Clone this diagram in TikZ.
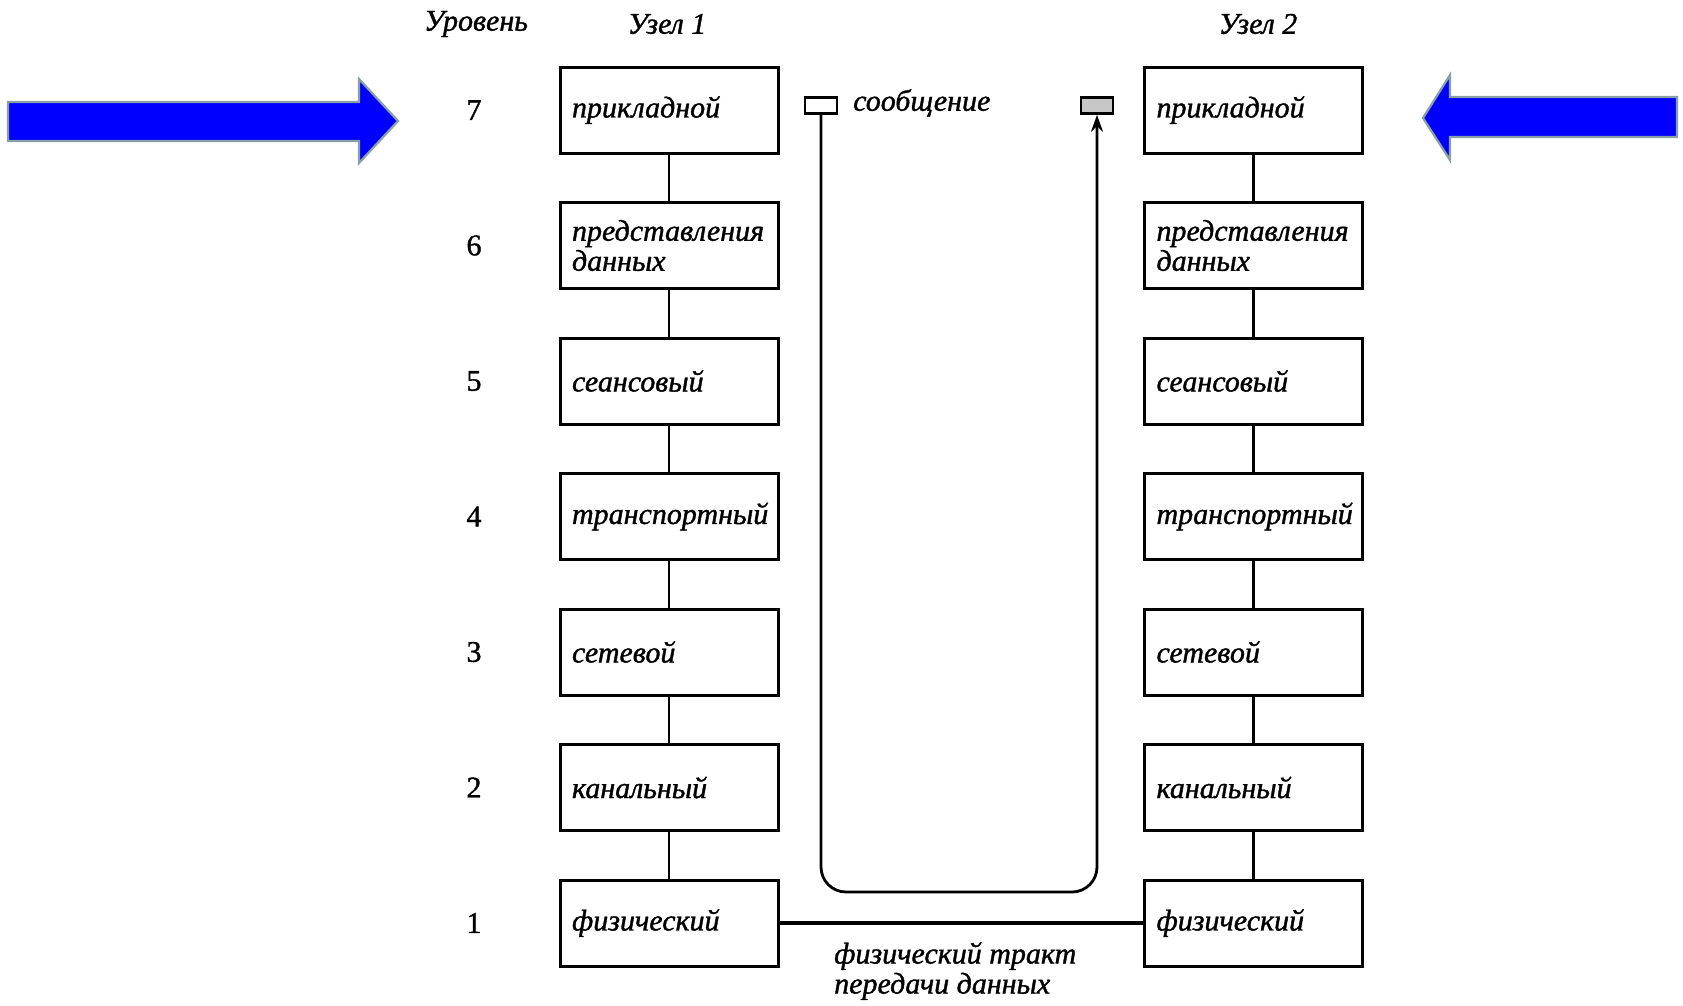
\documentclass[tikz,border=0pt]{standalone}
\usepackage{fontspec}
\setmainfont{Liberation Serif}
\newfontfamily\heavyfam{Liberation Serif}[FakeBold=1.2]
\usetikzlibrary{arrows.meta}
\definecolor{arrowblue}{RGB}{0,0,255}
\definecolor{arrowedge}{RGB}{135,160,165}
\tikzset{
  layer/.style={draw, line width=3pt, minimum height=86pt, text width=194pt,
    inner xsep=12pt, inner ysep=0pt, align=left,
    font=\heavyfam\fontsize{30}{30}\selectfont\itshape},
  num/.style={font=\heavyfam\fontsize{30}{30}\selectfont},
  txt/.style={font=\heavyfam\fontsize{30}{30}\selectfont\itshape, inner sep=0pt},
  link/.style={line width=2.2pt},
  msg/.style={draw, line width=2.6pt, minimum width=32pt, minimum height=16pt, inner sep=0pt},
  upath/.style={line width=2.8pt, rounded corners=25pt, -{Stealth[length=17pt,width=12pt]}},
  phys/.style={line width=3.6pt},
  bluearrow/.style={fill=arrowblue, draw=arrowedge, line width=2.2pt, line join=miter}
}
\begin{document}
\begin{tikzpicture}[x=1pt,y=-1pt]
\useasboundingbox[fill=white] (0,0) rectangle (1683,1005);
% blue arrows
\draw[bluearrow] (8,102) -- (359,102) -- (359,79) -- (398,121) -- (359,163) -- (359,141) -- (8,141) -- cycle;
\draw[bluearrow] (1677,97) -- (1450,97) -- (1450,75) -- (1423,118) -- (1450,160) -- (1450,137) -- (1677,137) -- cycle;
% headers
\node[txt] (h0) at (476,24) {Уровень};
\node[txt] (h1) at (667,24) {Узел 1};
\node[txt] (h2) at (1258,24) {Узел 2};
% left stack
\node[layer] (L7) at (669,110) {прикладной};
\node[layer] (L6) at (669,245.5) {представления\\данных};
\node[layer] (L5) at (669,381) {сеансовый};
\node[layer] (L4) at (669,516.5) {транспортный};
\node[layer] (L3) at (669,652) {сетевой};
\node[layer] (L2) at (669,787.5) {канальный};
\node[layer] (L1) at (669,923) {физический};
% right stack
\node[layer] (R7) at (1253.5,110) {прикладной};
\node[layer] (R6) at (1253.5,245.5) {представления\\данных};
\node[layer] (R5) at (1253.5,381) {сеансовый};
\node[layer] (R4) at (1253.5,516.5) {транспортный};
\node[layer] (R3) at (1253.5,652) {сетевой};
\node[layer] (R2) at (1253.5,787.5) {канальный};
\node[layer] (R1) at (1253.5,923) {физический};
% level numbers
\node[num] (n7) at (474,110) {7};
\node[num] (n6) at (474,245.5) {6};
\node[num] (n5) at (474,381) {5};
\node[num] (n4) at (474,516.5) {4};
\node[num] (n3) at (474,652) {3};
\node[num] (n2) at (474,787.5) {2};
\node[num] (n1) at (474,923) {1};
% vertical links
\foreach \a/\b in {7/6,6/5,5/4,4/3,3/2,2/1}{
  \draw[link] (L\a) -- (L\b);
  \draw[link] (R\a) -- (R\b);
}
% message
\node[msg] (M1) at (821,105.5) {};
\node[msg, fill=black!22] (M2) at (1097,105.5) {};
\node[txt, anchor=west] (msgtxt) at (853,103) {сообщение};
\coordinate (ub) at (960,892);
\draw[upath] (M1.south) |- (ub) -| (M2.south);
% physical link
\draw[phys] (L1.east) -- (R1.west);
\node[txt, align=left, anchor=north west] (tract) at (834,942) {физический тракт\\передачи данных};
\end{tikzpicture}
\end{document}
